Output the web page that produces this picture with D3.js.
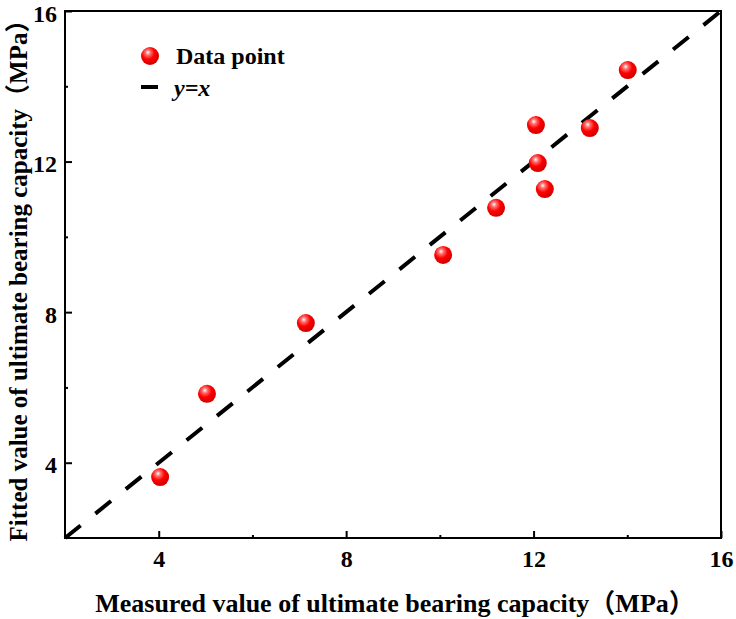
<!DOCTYPE html>
<html lang="en">
  <head>
    <meta charset="UTF-8" />
    <title>Fitted vs measured bearing capacity</title>
    <script src="https://d3js.org/d3.v7.min.js"></script>
    <style>
      body {
        margin: 0;
        background: #fff;
      }
      svg {
        display: block;
        font-family: "Times New Roman", "Liberation Serif", "Noto Sans CJK SC", serif;
      }
    </style>
  </head>
  <body>
    <svg id="chart" width="736" height="619"></svg>

    <script>
      // measured vs fitted values (MPa)
      const measured = [4.03, 5.03, 7.14, 10.07, 11.2, 12.05, 12.09, 12.24, 13.2, 14.01];
      const fitted = [3.62, 5.83, 7.71, 9.52, 10.77, 12.97, 11.96, 11.27, 12.89, 14.43];
      const majorTicks = [4, 8, 12, 16];
      const minorTicks = [6, 10, 14];

      const serif = '"Times New Roman", "Liberation Serif", "Noto Sans CJK SC", serif';

      const margin = { top: 11, right: 15, bottom: 81, left: 65 };
      const width = 736 - margin.left - margin.right;
      const height = 619 - margin.top - margin.bottom;

      const svg = d3.select("#chart");

      // red ball gradient
      const grad = svg
        .append("defs")
        .append("radialGradient")
        .attr("id", "ball")
        .attr("cx", "40%")
        .attr("cy", "35%")
        .attr("r", "65%")
        .attr("fx", "38%")
        .attr("fy", "30%");
      grad.append("stop").attr("offset", "0%").attr("stop-color", "#ffffff");
      grad.append("stop").attr("offset", "22%").attr("stop-color", "#ff7070");
      grad.append("stop").attr("offset", "55%").attr("stop-color", "#ff0000");
      grad.append("stop").attr("offset", "100%").attr("stop-color", "#d00000");

      const g = svg
        .append("g")
        .attr("transform", `translate(${margin.left}, ${margin.top})`);

      const x = d3.scaleLinear().domain([2, 16]).range([0, width]);
      const y = d3.scaleLinear().domain([2, 16]).range([height, 0]);

      // y = x reference line
      g.append("path")
        .attr("d", d3.line()([[x(2), y(2)], [x(16), y(16)]]))
        .attr("stroke", "#000")
        .attr("stroke-width", 4)
        .attr("stroke-dasharray", "20,19")
        .attr("fill", "none");

      // points
      g.selectAll(".pt")
        .data(measured)
        .enter()
        .append("circle")
        .attr("class", "pt")
        .attr("cx", (d) => x(d))
        .attr("cy", (d, i) => y(fitted[i]))
        .attr("r", 9)
        .attr("fill", "url(#ball)");

      // axes, ticks inward
      function axisStyle(sel) {
        sel.attr("font-family", serif).attr("font-size", 24).attr("font-weight", "bold");
        sel.select(".domain").remove();
        sel.selectAll("line").attr("stroke", "#000").attr("stroke-width", 2);
        sel.selectAll("text").attr("fill", "#000");
      }

      g.append("g")
        .attr("transform", `translate(0, ${height})`)
        .call(d3.axisBottom(x).tickValues(majorTicks).tickSize(-7).tickPadding(12).tickFormat(d3.format("d")))
        .call(axisStyle);

      g.append("g")
        .attr("transform", `translate(0, ${height})`)
        .call(d3.axisBottom(x).tickValues(minorTicks).tickSize(-3).tickFormat(""))
        .call(axisStyle);

      g.append("g")
        .call(d3.axisLeft(y).tickValues(majorTicks).tickSize(-7).tickPadding(8).tickFormat(d3.format("d")))
        .call(axisStyle)
        .selectAll("text")
        .attr("dy", "0.42em");

      g.append("g")
        .call(d3.axisLeft(y).tickValues(minorTicks).tickSize(-3).tickFormat(""))
        .call(axisStyle);

      // frame
      g.append("rect")
        .attr("width", width)
        .attr("height", height)
        .attr("fill", "none")
        .attr("stroke", "#000")
        .attr("stroke-width", 2);

      // axis titles
      svg
        .append("text")
        .attr("x", margin.left + width / 2 + 2)
        .attr("y", 612)
        .attr("text-anchor", "middle")
        .attr("font-size", 26)
        .attr("font-weight", "bold")
        .text("Measured value of ultimate bearing capacity（MPa）");

      svg
        .append("text")
        .attr("transform", `translate(27, ${margin.top + height / 2}) rotate(-90)`)
        .attr("text-anchor", "middle")
        .attr("font-size", 25)
        .attr("font-weight", "bold")
        .text("Fitted value of ultimate bearing capacity（MPa）");

      // legend
      const legend = svg.append("g");
      legend
        .append("circle")
        .attr("cx", 150)
        .attr("cy", 56)
        .attr("r", 9)
        .attr("fill", "url(#ball)");
      legend
        .append("text")
        .attr("x", 176)
        .attr("y", 64)
        .attr("font-size", 24)
        .attr("font-weight", "bold")
        .text("Data point");
      legend
        .append("line")
        .attr("x1", 141)
        .attr("x2", 158)
        .attr("y1", 87)
        .attr("y2", 87)
        .attr("stroke", "#000")
        .attr("stroke-width", 4);
      legend
        .append("text")
        .attr("x", 174)
        .attr("y", 96)
        .attr("font-size", 24)
        .attr("font-style", "italic")
        .attr("font-weight", "bold")
        .text("y=x");
    </script>
  </body>
</html>
